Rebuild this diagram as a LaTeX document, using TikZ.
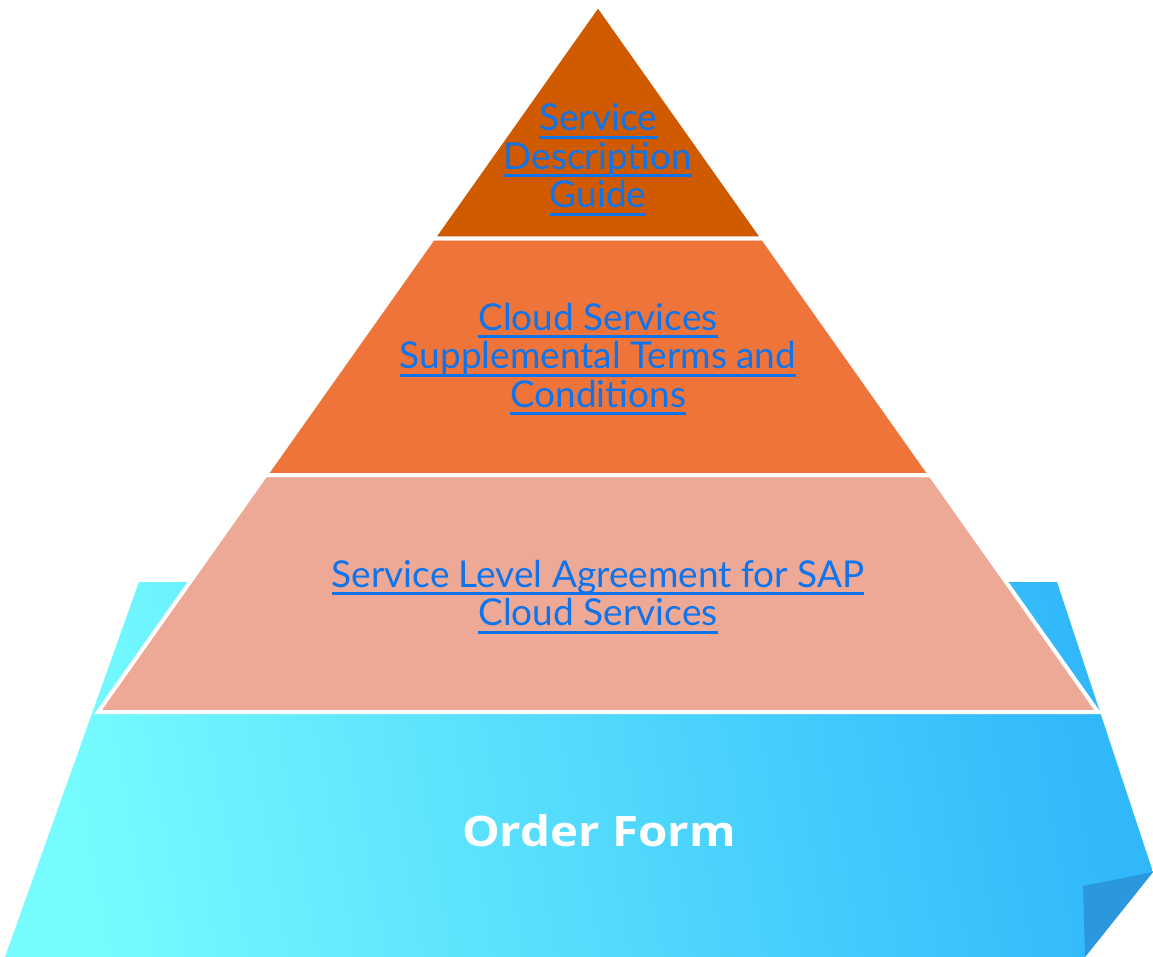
\documentclass[tikz,border=0pt]{standalone}
\usepackage{fontspec}
\usepackage{tikz}
\setmainfont{Lato}
\newfontfamily\orderfont{Open Sans}
\definecolor{cyanL}{RGB}{118,252,254}
\definecolor{cyanR}{RGB}{48,184,251}
\definecolor{foldblue}{RGB}{43,152,221}
\definecolor{topfill}{RGB}{207,90,0}
\definecolor{midfill}{RGB}{239,116,58}
\definecolor{lowfill}{RGB}{238,169,150}
\definecolor{linkblue}{RGB}{14,116,238}
\newcommand{\linkline}[1]{\setbox0\hbox{#1}\rlap{\rule[-8pt]{\wd0}{3pt}}\box0}
\tikzset{
  layer/.style={draw=white, line width=4pt},
  link/.style={text=linkblue, align=center, font=\fontsize{37}{38.5}\selectfont},
}

\begin{document}
\begin{tikzpicture}[x=1pt, y=-1pt]
\useasboundingbox (0,0) rectangle (1153,957);
% base of the pyramid
\shade[left color=cyanL, right color=cyanR, shading angle=100] (139,582) -- (1057,582) -- (1153,872) -- (1085,957) -- (5,957) -- cycle;
\fill[foldblue] (1083,886) -- (1153,872) -- (1085,957) -- cycle;
% the three layers
\filldraw[layer, fill=lowfill] (265.6,475) -- (930.4,475) -- (1098,712) -- (98,712) -- cycle;
\filldraw[layer, fill=midfill] (432.9,238.5) -- (763.1,238.5) -- (930.4,475) -- (265.6,475) -- cycle;
\filldraw[layer, fill=topfill] (598,5) -- (763.1,238.5) -- (432.9,238.5) -- cycle;
\node[link] (guide) at (598,160) {\linkline{Service}\\\linkline{Description}\\\linkline{Guide}};
\node[link] (terms) at (598,359) {\linkline{Cloud Services}\\\linkline{Supplemental Terms and}\\\linkline{Conditions}};
\node[link] (sla) at (598,597) {\linkline{Service Level Agreement for SAP}\\\linkline{Cloud Services}};
\node[text=white, font=\orderfont\bfseries\fontsize{42}{42}\selectfont] (order) at (599,831) {\scalebox{1.13}[1]{Order Form}};
\end{tikzpicture}
\end{document}
